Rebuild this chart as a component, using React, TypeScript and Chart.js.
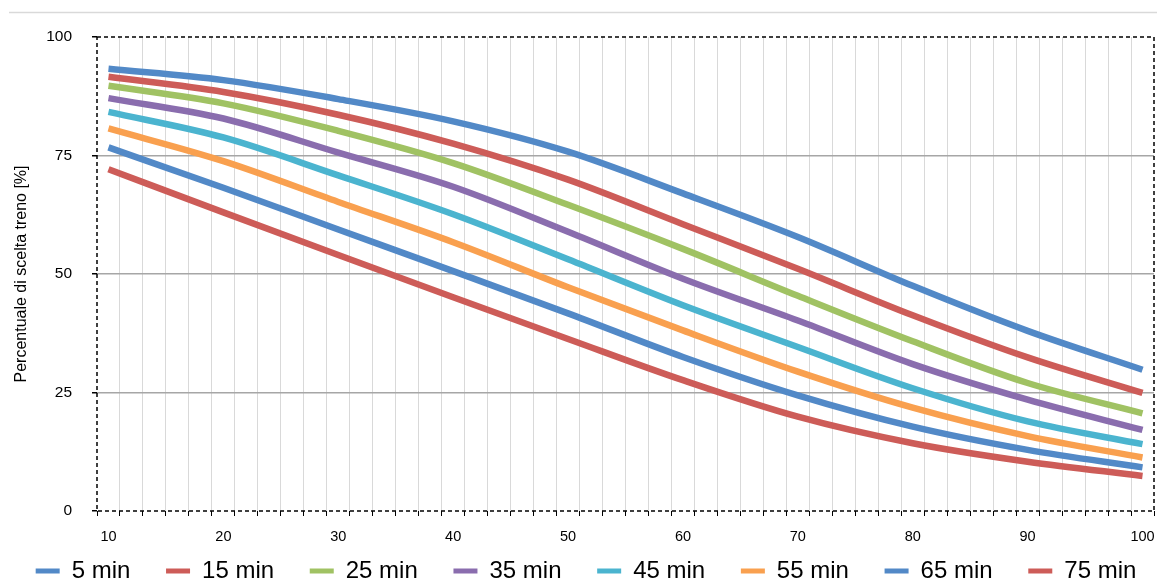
import React, { useEffect, useRef } from 'react';
import { Chart, registerables } from 'chart.js';

Chart.register(...registerables);

// ---- data ----
const xValues = [10, 20, 30, 40, 50, 60, 70, 80, 90, 100];
const seriesLabels = ['5 min', '15 min', '25 min', '35 min', '45 min', '55 min', '65 min', '75 min'];
const series5 = [93.3, 90.9, 86.9, 82.2, 75.8, 67.0, 57.8, 47.5, 38.0, 29.8];
const series15 = [91.6, 88.4, 83.6, 77.5, 69.9, 60.5, 51.1, 41.3, 32.4, 24.9];
const series25 = [89.7, 86.0, 80.2, 73.4, 64.6, 55.3, 45.4, 35.8, 27.0, 20.6];
const series35 = [87.1, 82.8, 75.6, 68.4, 58.9, 49.0, 40.2, 31.0, 23.5, 17.1];
const series45 = [84.2, 78.8, 70.8, 62.6, 53.1, 43.4, 34.6, 25.9, 18.9, 14.1];
const series55 = [80.7, 73.8, 65.2, 56.7, 47.2, 38.1, 29.4, 21.8, 15.8, 11.3];
const series65 = [76.7, 68.2, 59.4, 50.6, 41.7, 32.5, 24.4, 17.8, 12.9, 9.2];
const series75 = [72.1, 63.0, 54.0, 45.1, 36.3, 27.6, 19.9, 14.3, 10.4, 7.4];
const xTickLabels = [10, 20, 30, 40, 50, 60, 70, 80, 90, 100];
const yTitle = 'Percentuale di scelta treno [%]';

const seriesColors = ['#5289C7', '#CD5C58', '#A0C263', '#8A6DAE', '#4BB4CF', '#F9A04F', '#5289C7', '#CD5C58'];
const FONT = '"Liberation Sans", Arial, sans-serif';
const CLEAR = 'rgba(0,0,0,0)';

export default function App() {
  const ref = useRef<HTMLCanvasElement | null>(null);

  useEffect(() => {
    if (!ref.current) return;
    const allSeries = [series5, series15, series25, series35, series45, series55, series65, series75];

    const gridValues: number[] = [];
    for (let v = 9; v <= 101; v += 2) gridValues.push(v);
    const tickValues = Array.from(new Set([...gridValues, ...xTickLabels])).sort((a, b) => a - b);

    const datasets = allSeries.map((s, i) => ({
      label: seriesLabels[i],
      data: xValues.map((x, j) => ({ x, y: s[j] })),
      borderColor: seriesColors[i],
      backgroundColor: seriesColors[i],
      borderWidth: 6.5,
      borderCapStyle: 'butt' as const,
      pointRadius: 0,
      pointHoverRadius: 0,
      pointBorderWidth: 5,
      pointBorderColor: seriesColors[i],
      cubicInterpolationMode: 'monotone' as const,
      fill: false,
    }));

    const framePlugin = {
      id: 'frame',
      beforeDraw(chart: any) {
        const { ctx, width, height } = chart;
        ctx.save();
        ctx.fillStyle = '#ffffff';
        ctx.fillRect(0, 0, width, height);
        ctx.strokeStyle = '#d9d9d9';
        ctx.lineWidth = 1.5;
        ctx.beginPath();
        ctx.moveTo(9, 12.5);
        ctx.lineTo(width, 12.5);
        ctx.stroke();
        ctx.restore();
      },
      afterDraw(chart: any) {
        const { ctx, chartArea } = chart;
        ctx.save();
        ctx.strokeStyle = '#000000';
        ctx.lineWidth = 1.5;
        ctx.setLineDash([4, 3]);
        ctx.strokeRect(chartArea.left, chartArea.top, chartArea.right - chartArea.left, chartArea.bottom - chartArea.top);
        ctx.restore();
      },
    };

    const chart = new Chart(ref.current, {
      type: 'line',
      data: { datasets: datasets as any },
      options: {
        animation: false,
        responsive: true,
        maintainAspectRatio: false,
        devicePixelRatio: 1,
        events: [],
        layout: { padding: { top: 37, left: 18, right: 3, bottom: 7 } },
        plugins: {
          tooltip: { enabled: false },
          legend: {
            position: 'bottom',
            align: 'center',
            labels: {
              usePointStyle: true,
              pointStyle: 'line',
              pointStyleWidth: 24,
              padding: 9,
              color: '#000',
              font: { family: FONT, size: 24 },
              generateLabels: (c: any) => {
                const items = (Chart.defaults.plugins.legend.labels as any).generateLabels(c);
                return items.map((it: any, i: number) => ({
                  ...it,
                  text: i < items.length - 1 ? it.text + '\u00a0\u00a0\u00a0\u00a0' : it.text,
                }));
              },
            },
          },
        },
        scales: {
          x: {
            type: 'linear',
            min: 9,
            max: 101,
            afterBuildTicks: (axis: any) => {
              axis.ticks = tickValues.map((value) => ({ value }));
            },
            afterFit: (axis: any) => {
              axis.height = 39;
            },
            ticks: {
              autoSkip: false,
              maxRotation: 0,
              minRotation: 0,
              padding: 0,
              color: '#000',
              font: { family: FONT, size: 14.5, lineHeight: '41px' },
              callback: (value: any) => (xTickLabels.includes(Number(value)) ? String(value) : ''),
            },
            grid: {
              color: (c: any) => {
                const v = c.tick ? c.tick.value : 0;
                return v % 2 === 1 && v > 9 && v < 101 ? '#d9d9d9' : CLEAR;
              },
              lineWidth: 1,
              tickLength: 5,
              tickColor: (c: any) => {
                const v = c.tick ? c.tick.value : 0;
                return v % 2 === 1 ? '#000' : CLEAR;
              },
              tickWidth: 1,
            },
            border: { display: false },
          },
          y: {
            min: 0,
            max: 100,
            afterFit: (axis: any) => {
              axis.width = 79;
            },
            ticks: {
              stepSize: 25,
              padding: 20,
              color: '#000',
              font: { family: FONT, size: 15.5 },
            },
            grid: {
              color: (c: any) => {
                const v = c.tick ? c.tick.value : 0;
                return v > 0 && v < 100 ? '#a6a6a6' : CLEAR;
              },
              lineWidth: 1.5,
              tickLength: 5,
              tickColor: '#000',
              tickWidth: 1.5,
            },
            border: { display: false },
            title: {
              display: true,
              text: yTitle,
              color: '#000',
              font: { family: FONT, size: 16 },
              padding: { top: -6, bottom: 0 },
            },
          },
        },
      } as any,
      plugins: [framePlugin],
    });

    return () => chart.destroy();
  }, []);

  return (
    <div style={{ position: 'fixed', left: 0, top: 0, width: 1157, height: 582, overflow: 'hidden', background: '#fff' }}>
      <div style={{ position: 'relative', width: 1157, height: 600 }}>
        <canvas ref={ref} />
      </div>
    </div>
  );
}
